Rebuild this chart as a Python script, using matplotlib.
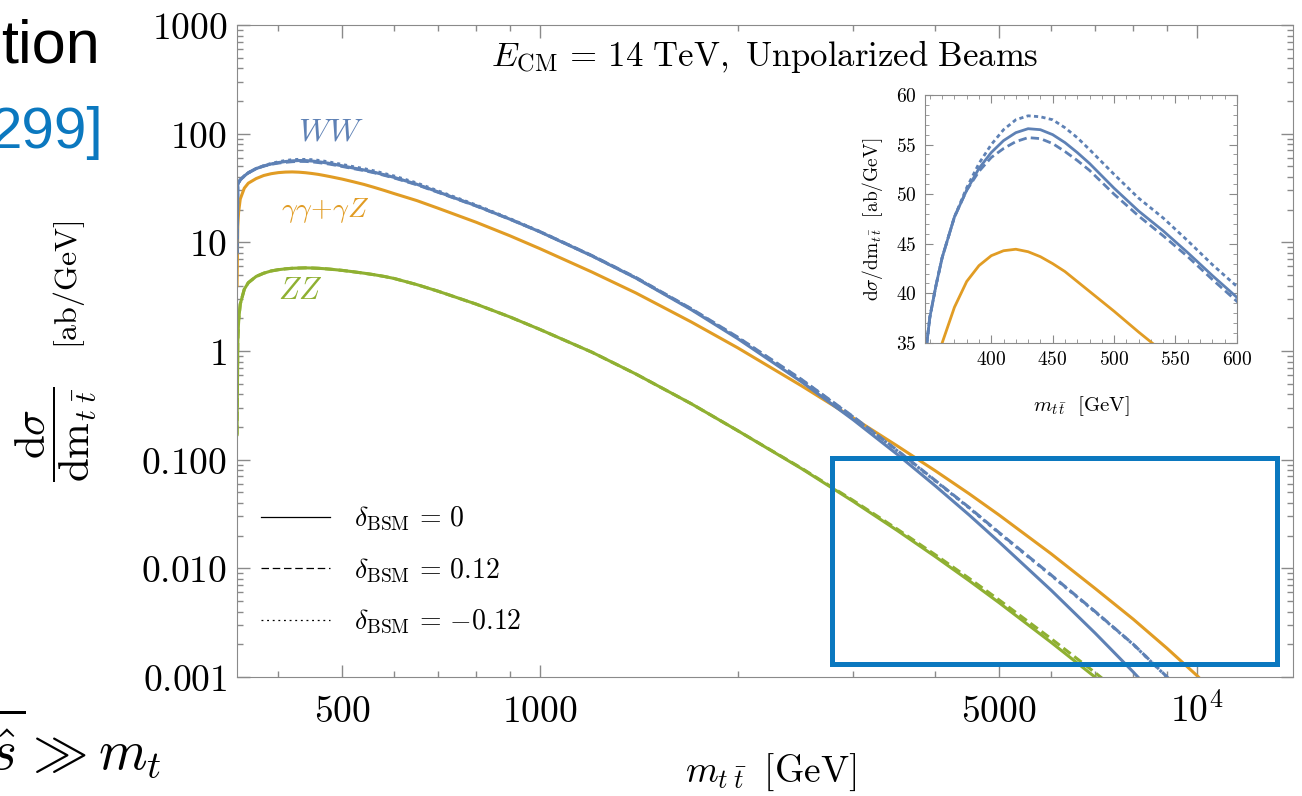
import matplotlib
matplotlib.use("Agg")
import matplotlib.pyplot as plt
from matplotlib.lines import Line2D
from matplotlib.patches import Rectangle
from matplotlib.ticker import FixedLocator, NullFormatter

plt.rcParams["mathtext.fontset"] = "cm"
plt.rcParams["font.family"] = ["DejaVu Serif"]

# ---- values: m_tt [GeV] vs dsigma/dm [ab/GeV] ----
m_tt = [346.1, 347, 348, 350, 355, 360, 370, 380, 390, 400, 410, 420, 430, 440, 450,
        460, 470, 480, 500, 520, 540, 560, 580, 600, 650, 700, 800, 900, 1000, 1200,
        1400, 1700, 2000, 2500, 3000, 3500, 4000, 4500, 5000, 6000, 7000, 8000, 9000,
        10000, 11000]

# W W fusion, delta_BSM = 0 / +0.12 / -0.12
ww_sm = [8, 34, 35.5, 37.6, 40.8, 43.6, 47.7, 50.4, 52.6, 54.2, 55.4, 56.2, 56.6, 56.5,
         56.0, 55.2, 54.2, 53.1, 50.6, 48.3, 46.3, 44.1, 41.8, 39.6, 34.2, 29.1, 21.7,
         16.35, 12.5, 7.5, 4.69, 2.40, 1.30, 0.522, 0.232, 0.1116, 0.0572, 0.0310,
         0.01745, 0.00628, 0.00253, 0.00111, 0.000515, 0.000252, 0.000129]
ww_plus = [8, 34, 35.5, 37.6, 40.8, 43.6, 47.7, 50.4, 52.3, 53.7, 54.6, 55.3, 55.7, 55.6,
           55.1, 54.3, 53.4, 52.4, 50.0, 47.8, 45.8, 43.7, 41.4, 39.2, 33.9, 28.9, 21.6,
           16.35, 12.54, 7.56, 4.75, 2.45, 1.34, 0.548, 0.248, 0.1216, 0.0641, 0.0363,
           0.0213, 0.00867, 0.00400, 0.00200, 0.001004, 0.000517, 0.000277]
ww_minus = [8, 34, 35.5, 37.6, 40.8, 43.6, 47.7, 50.65, 53.1, 55.0, 56.5, 57.5, 57.9, 57.8,
            57.5, 56.7, 55.7, 54.5, 52.0, 49.6, 47.6, 45.3, 42.9, 40.7, 35.1, 29.7, 22.0,
            16.5, 12.56, 7.52, 4.71, 2.43, 1.33, 0.543, 0.246, 0.1205, 0.0635, 0.0360,
            0.0211, 0.00860, 0.00397, 0.00199, 0.000999, 0.000514, 0.000276]
# gamma gamma + gamma Z
aa_sm = [4, 14, 19, 25, 31.5, 35, 38.6, 41.2, 42.8, 43.8, 44.3, 44.45, 44.2, 43.7, 43.0,
         42.2, 41.2, 40.2, 38.2, 36.1, 34.1, 32.0, 30.0, 28.1, 24.2, 20.6, 15.3, 11.5,
         8.75, 5.33, 3.42, 1.85, 1.07, 0.479, 0.2417, 0.1336, 0.0788, 0.0486, 0.0309,
         0.0136, 0.00652, 0.0034, 0.00184, 0.00103, 0.00058]
# Z Z fusion, delta_BSM = 0 / +0.12
zz_sm = [0.17, 1.2, 1.9, 2.7, 3.7, 4.25, 4.85, 5.2, 5.45, 5.6, 5.7, 5.77, 5.8, 5.82, 5.8,
         5.77, 5.72, 5.66, 5.52, 5.36, 5.2, 5.03, 4.85, 4.65, 4.08, 3.55, 2.70, 2.06,
         1.58, 0.975, 0.614, 0.327, 0.185, 0.0829, 0.0412, 0.02225, 0.01278, 0.0077,
         0.00482, 0.00208, 0.000995, 0.00051, 0.00027, 0.00015, 0.00008]
zz_plus = [0.17, 1.2, 1.9, 2.7, 3.7, 4.25, 4.85, 5.2, 5.45, 5.6, 5.7, 5.77, 5.8, 5.82, 5.8,
           5.77, 5.72, 5.66, 5.52, 5.36, 5.2, 5.03, 4.85, 4.65, 4.08, 3.55, 2.70, 2.06,
           1.58, 0.975, 0.614, 0.327, 0.185, 0.0837, 0.0420, 0.0229, 0.01329, 0.00809,
           0.00511, 0.00225, 0.001095, 0.000571, 0.000308, 0.000171, 0.0000912]

x_ticks = [500, 1000, 5000, 10000]
x_labels = ["$500$", "$1000$", "$5000$", "$10^4$"]
x_minor = [400, 600, 700, 800, 900, 2000, 3000, 4000, 6000, 7000, 8000, 9000]
y_ticks = [1000, 100, 10, 1, 0.1, 0.01, 0.001]
y_labels = ["$1000$", "$100$", "$10$", "$1$", "$0.100$", "$0.010$", "$0.001$"]
inset_xticks = [400, 450, 500, 550, 600]
inset_yticks = [35, 40, 45, 50, 55, 60]

c_ww = "#5e81b5"
c_aa = "#e19c24"
c_zz = "#8fb032"
c_frame = "#8a8a8a"
c_slide = "#0b78bf"

fig = plt.figure(figsize=(13.02, 7.96), dpi=100)
ax = fig.add_axes([0.1820, 0.1495, 0.8111, 0.8191])

lw = 2.2
ax.plot(m_tt, zz_sm, color=c_zz, lw=lw)
ax.plot(m_tt, zz_plus, color=c_zz, lw=lw, ls=(0, (3, 1.5)))
ax.plot(m_tt, aa_sm, color=c_aa, lw=lw)
ax.plot(m_tt, ww_minus, color=c_ww, lw=lw, ls=(0, (1, 1.3)))
ax.plot(m_tt, ww_plus, color=c_ww, lw=lw, ls=(0, (3, 1.5)))
ax.plot(m_tt, ww_sm, color=c_ww, lw=lw)

ax.set_xscale("log")
ax.set_yscale("log")
ax.set_xlim(346, 14000)
ax.set_ylim(0.001, 1000)
ax.set_xticks(x_ticks, labels=x_labels)
ax.xaxis.set_minor_locator(FixedLocator(x_minor))
ax.xaxis.set_minor_formatter(NullFormatter())
ax.set_yticks(y_ticks, labels=y_labels)
ax.tick_params(which="both", direction="in", top=True, right=True, color=c_frame,
               labelsize=27)
ax.tick_params(axis="y", pad=7)
ax.tick_params(axis="x", pad=12)
ax.tick_params(which="major", length=9, width=1)
ax.tick_params(which="minor", length=4.5, width=1)
for s in ax.spines.values():
    s.set_color(c_frame)

ax.text(0.5, 0.952, r"$E_{\mathrm{CM}}\,=\,14\ \mathrm{TeV,\ Unpolarized\ Beams}$",
        transform=ax.transAxes, ha="center", va="center", fontsize=25)
ax.text(0.089, 0.836, "$WW$", transform=ax.transAxes, color=c_ww, fontsize=23,
        ha="center", va="center")
ax.text(0.084, 0.716, r"$\gamma\gamma\!+\!\gamma Z$", transform=ax.transAxes,
        color=c_aa, fontsize=20, ha="center", va="center")
ax.text(0.060, 0.593, "$ZZ$", transform=ax.transAxes, color=c_zz, fontsize=22,
        ha="center", va="center")

handles = [Line2D([], [], color="k", lw=0.9),
           Line2D([], [], color="k", lw=0.9, ls=(0, (6, 3))),
           Line2D([], [], color="k", lw=0.9, ls=(0, (1.5, 3)))]
labels = [r"$\delta_{\mathrm{BSM}}\,=\,0$", r"$\delta_{\mathrm{BSM}}\,=\,0.12$",
          r"$\delta_{\mathrm{BSM}}\,=\,{-0.12}$"]
ax.legend(handles, labels, loc="center left", bbox_to_anchor=(0.012, 0.163),
          borderaxespad=0, frameon=False, fontsize=20, handlelength=2.5,
          handletextpad=0.85, labelspacing=0.85)

# inset with the peak region
ins = fig.add_axes([0.7104, 0.5691, 0.2396, 0.3116])
ins.plot(m_tt, aa_sm, color=c_aa, lw=2.0)
ins.plot(m_tt, ww_minus, color=c_ww, lw=2.0, ls=(0, (1.5, 1.2)))
ins.plot(m_tt, ww_plus, color=c_ww, lw=2.0, ls=(0, (3, 1.5)))
ins.plot(m_tt, ww_sm, color=c_ww, lw=2.0)
ins.set_xlim(346, 600)
ins.set_ylim(35, 60)
ins.set_xticks(inset_xticks, labels=[f"${v}$" for v in inset_xticks])
ins.set_yticks(inset_yticks, labels=[f"${v}$" for v in inset_yticks])
ins.xaxis.set_minor_locator(FixedLocator(list(range(350, 600, 10))))
ins.yaxis.set_minor_locator(FixedLocator([v for v in range(35, 61) if v % 5]))
ins.tick_params(which="both", direction="in", top=True, right=True, color=c_frame,
                labelsize=14, pad=6)
ins.tick_params(which="major", length=6)
ins.tick_params(which="minor", length=3)
for s in ins.spines.values():
    s.set_color(c_frame)
ins.set_xlabel(r"$m_{t\,\bar{t}}\ \ [\mathrm{GeV}]$", fontsize=15, labelpad=18)
ins.set_ylabel(r"$\mathrm{d}\sigma/\mathrm{dm}_{t\,\bar{t}}\ \ [\mathrm{ab/GeV}]$",
               fontsize=14, labelpad=8)

# axis labels of the main plot
fig.text(0.592, 0.030, r"$m_{t\;\bar{t}}\;\;[\mathrm{GeV}]$", ha="center",
         va="center", fontsize=27)
fig.text(0.043, 0.455, r"$\dfrac{\mathrm{d}\sigma}{\mathrm{dm}_{t\;\bar{t}}}$",
         ha="center", va="center", rotation=90, fontsize=31)
fig.text(0.053, 0.642, r"$[\mathrm{ab/GeV}]$", ha="center", va="center",
         rotation=90, fontsize=23)

# slide fragments around the plot
fig.text(0.077, 0.921, "tion", ha="right", va="baseline", fontsize=44,
         family=["Liberation Sans", "DejaVu Sans"])
fig.text(0.079, 0.814, "299]", ha="right", va="baseline", fontsize=42,
         family=["Liberation Sans", "DejaVu Sans"], color=c_slide)
fig.text(0.124, 0.033, r"$\sqrt{\hat{s}} \gg m_t$", ha="right", va="baseline",
         fontsize=40)

fig.patches.append(Rectangle((0.639, 0.1658), 0.3418, 0.2594, transform=fig.transFigure,
                             fill=False, edgecolor=c_slide, lw=3.6, zorder=10))

fig.savefig("out.png", dpi=100, facecolor="white")
